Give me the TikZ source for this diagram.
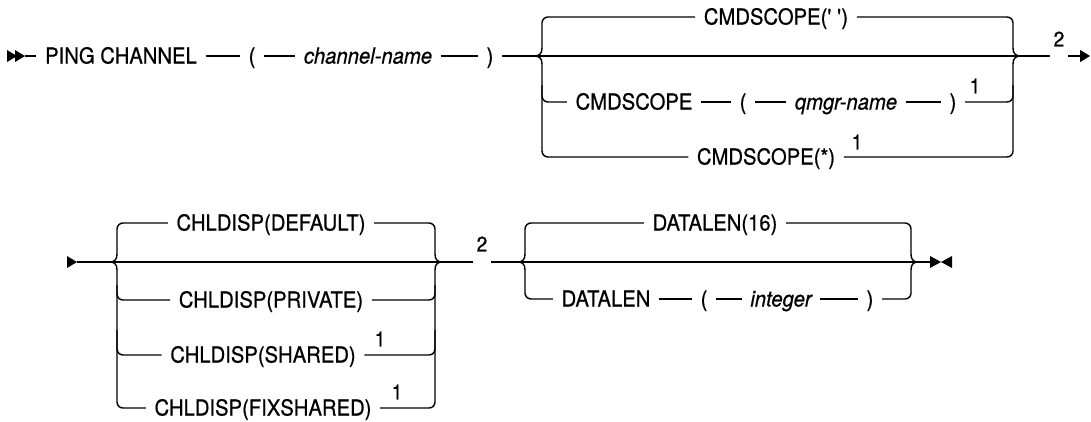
\documentclass[tikz,border=0pt]{standalone}
\usepackage{fontspec}
\setmainfont{TeX Gyre Heros}[FakeStretch=0.92,FakeBold=0.6]
\usetikzlibrary{arrows.meta}
\begin{document}
\begin{tikzpicture}[x=1pt,y=-1pt,line width=1.4pt,>={Triangle[length=10pt,width=12pt]},
  tok/.style={inner xsep=8pt,inner ysep=0pt,text height=15pt,text depth=0pt,font=\fontsize{22}{26}\selectfont},
  var/.style={tok,font=\fontsize{22}{26}\selectfont\itshape},
  note/.style={inner xsep=3pt,inner ysep=0pt,font=\fontsize{21}{24}\selectfont}]
  \useasboundingbox (0,0) rectangle (1091,421);
  \node[tok] (ping) at (121,56) {PING CHANNEL};
  \node[tok] (lp1) at (252,56) {(};
  \node[var] (chn) at (368,56) {channel-name};
  \node[tok] (rp1) at (490,56) {)};
  \node[tok] (cs1) at (776,17) {CMDSCOPE(\textquotesingle\ \textquotesingle)};
  \node[tok] (cs2) at (634,102) {CMDSCOPE};
  \node[tok] (lp2) at (743,102) {(};
  \node[var] (qmn) at (846,102) {qmgr-name};
  \node[tok] (rp2) at (953,102) {)};
  \node[note] at (975,86) {1};
  \node[tok] (cs3) at (766,157) {CMDSCOPE(*)};
  \node[note] at (857,142) {1};
  \node[note] (fn1) at (1059,39) {2};
  \coordinate (start1) at (25,56);
  \coordinate (end1) at (1090,56);
  \fill (7,50) -- (17,56) -- (7,62) -- cycle (15,50) -- (25,56) -- (15,62) -- cycle;
  \draw (start1) -- (ping);
  \draw (ping) -- (lp1);
  \draw (lp1) -- (chn);
  \draw (chn) -- (rp1);
  \draw (rp1.east) -- (rp1.east -| fn1.west);
  \draw[->] (rp1.east -| fn1.east) -- (end1);
  \draw (cs2) -- (lp2);
  \draw (lp2) -- (qmn);
  \draw (qmn) -- (rp2);
  \draw[rounded corners=6pt] (cs1.west) -| (542,48);
  \draw (542,48) .. controls (542,53) and (540,56) .. (534,56) .. controls (540,56) and (542,59) .. (542,64);
  \draw[rounded corners=6pt] (542,64) |- (cs3.west);
  \draw[rounded corners=6pt] (542,85) |- (cs2.west);
  \draw[rounded corners=6pt] (cs1.east) -| (1013,48);
  \draw (1013,48) .. controls (1013,53) and (1015,56) .. (1021,56) .. controls (1015,56) and (1013,59) .. (1013,64);
  \draw[rounded corners=6pt] (cs3.east) -| (1013,64);
  \draw[rounded corners=6pt] (rp2.east) -| (1013,85);
  \node[tok] (dflt) at (271,223) {CHLDISP(DEFAULT)};
  \node[tok] (prv) at (271,300) {CHLDISP(PRIVATE)};
  \node[tok] (shr) at (263,355) {CHLDISP(SHARED)};
  \node[note] at (380,339) {1};
  \node[tok] (fix) at (263,408) {CHLDISP(FIXSHARED)};
  \node[note] at (397,392) {1};
  \node[note] (fn2) at (482,244) {2};
  \node[tok] (dl16) at (715,223) {DATALEN(16)};
  \node[tok] (dl) at (606,299) {DATALEN};
  \node[tok] (lp3) at (704,299) {(};
  \node[var] (int) at (781,299) {integer};
  \node[tok] (rp3) at (870,299) {)};
  \coordinate (start2) at (77,262);
  \coordinate (end2) at (930,262);
  \fill (67,256) -- (77,262) -- (67,268) -- cycle;
  \fill (930,256) -- (941,262) -- (930,268) -- cycle (952,256) -- (941,262) -- (952,268) -- cycle;
  \draw (start2) -- (start2 -| fn2.west);
  \draw (start2 -| fn2.east) -- (end2);
  \draw (dl) -- (lp3);
  \draw (lp3) -- (int);
  \draw (int) -- (rp3);
  \draw[rounded corners=6pt] (dflt.west) -| (117,254);
  \draw (117,254) .. controls (117,259) and (115,262) .. (110,262) .. controls (115,262) and (117,265) .. (117,270);
  \draw[rounded corners=6pt] (117,270) |- (fix.west);
  \draw[rounded corners=6pt] (117,285) |- (prv.west);
  \draw[rounded corners=6pt] (117,330) |- (shr.west);
  \draw[rounded corners=6pt] (dflt.east) -| (435,254);
  \draw (435,254) .. controls (435,259) and (437,262) .. (442,262) .. controls (437,262) and (435,265) .. (435,270);
  \draw[rounded corners=6pt] (fix.east) -| (435,270);
  \draw[rounded corners=6pt] (prv.east) -| (435,285);
  \draw[rounded corners=6pt] (shr.east) -| (435,330);
  \draw[rounded corners=6pt] (dl16.west) -| (525,254);
  \draw (525,254) .. controls (525,259) and (523,262) .. (518,262) .. controls (523,262) and (525,265) .. (525,270);
  \draw[rounded corners=6pt] (525,270) |- (dl.west);
  \draw[rounded corners=6pt] (dl16.east) -| (911,254);
  \draw (911,254) .. controls (911,259) and (913,262) .. (918,262) .. controls (913,262) and (911,265) .. (911,270);
  \draw[rounded corners=6pt] (rp3.east) -| (911,270);
\end{tikzpicture}
\end{document}
